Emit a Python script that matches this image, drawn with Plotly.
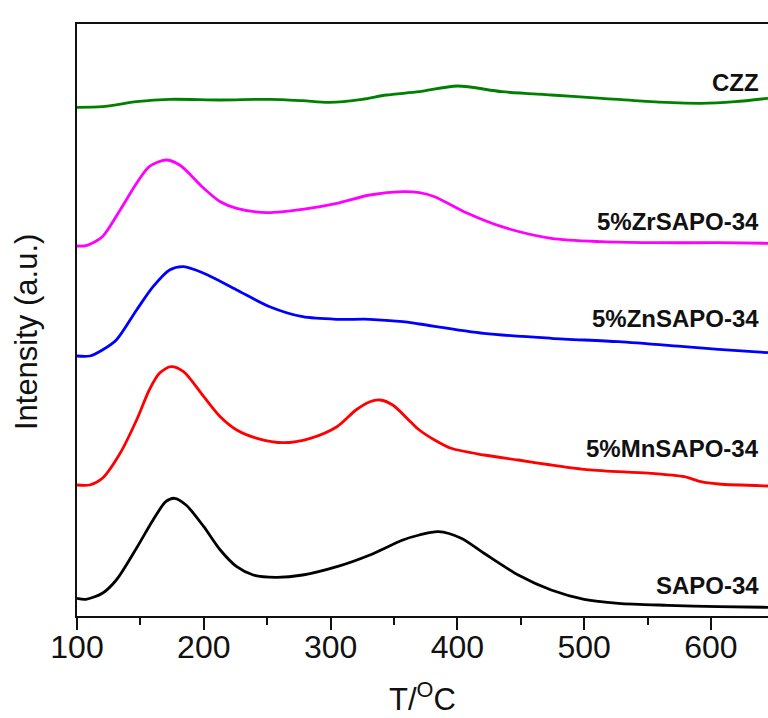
import plotly.graph_objects as go

# ---- data (temperature in °C, intensity in arbitrary units) ----
t_sapo = [100,107,120,131,147,160,170,177,186,200,213,226,239,257,278,305,331,357,370,385,403,421,448,474,500,527,566,606,645]
i_sapo = [17.7,16.7,22.7,36,68,96,114.3,117.7,111,89.3,66,49.3,41,38.7,41,49.3,61,76,81,84.3,77.7,62.7,41,26,16.7,12.7,10.7,9.3,8.7]

t_mn = [100,110,120,134,147,157,165,174,184,200,213,226,242,263,284,305,320,331,339,349,363,370,382,395,421,448,474,500,527,553,579,592,606,645]
i_mn = [131,131,137.7,162.7,196,226,242.7,249.3,244.3,219.3,199.3,186,177.7,173.3,177.7,189.3,206,214.3,216,211,194.3,186,176,167.7,161,156,151,146.7,144.3,142.7,139.3,134.3,132,130]

t_zn = [100,110,120,131,147,160,173,184,200,226,252,278,305,331,357,370,421,474,527,579,606,645]
i_zn = [260,260,266,276,306,329.3,346,349.3,342.7,326,309.3,299.3,296.7,296.7,294.3,292,282.7,277.7,274.3,269.3,266.7,263.3]

t_zr = [100,107,120,134,147,157,170,181,200,213,226,250,278,305,331,357,370,382,408,435,474,514,553,606,645]
i_zr = [370,370.3,379.3,406,432.7,449.3,456,451,427.7,414.3,407.7,403.3,406.7,412.7,421,424.3,423.3,419.3,402.7,389.3,377.7,374.3,373.3,373.3,372.7]

t_czz = [100,120,147,173,213,252,278,299,325,344,370,400,435,474,514,553,592,619,645]
i_czz = [508.7,509.3,514.3,516.7,516,516.7,515.3,513.7,516.7,521,524.3,530,524.3,521,517.7,514.3,512.7,514.3,517.7]

series_names = ["SAPO-34", "5%MnSAPO-34", "5%ZnSAPO-34", "5%ZrSAPO-34", "CZZ"]
x_ticks = [100, 200, 300, 400, 500, 600]

series = [
    (t_sapo, i_sapo, "#000000", 31),
    (t_mn, i_mn, "#FF0000", 167.7),
    (t_zn, i_zn, "#0000FF", 297.7),
    (t_zr, i_zr, "#FF00FF", 394.3),
    (t_czz, i_czz, "#008000", 533.3),
]

FONT = "Liberation Sans, Arial, sans-serif"

fig = go.Figure()
annotations = []
for name, (tx, iy, col, label_y) in zip(series_names, series):
    fig.add_trace(go.Scatter(x=tx, y=iy, mode="lines", name=name,
                             line=dict(color=col, width=2.8, shape="spline", smoothing=0.8),
                             showlegend=False, hoverinfo="skip"))
    annotations.append(dict(x=0.99, xref="paper", y=label_y, yref="y", text=f"<b>{name}</b>",
                            showarrow=False, xanchor="right", yanchor="middle",
                            font=dict(family=FONT, size=24, color="#111111")))

annotations.append(dict(x=-0.072, xref="paper", y=0.48, yref="paper", text="Intensity (a.u.)",
                        textangle=-90, showarrow=False, xanchor="center", yanchor="middle",
                        font=dict(family=FONT, size=31, color="#111111")))
annotations.append(dict(x=0.5, xref="paper", y=-0.137, yref="paper", text="T/<sup>O</sup>C",
                        showarrow=False, xanchor="center", yanchor="middle",
                        font=dict(family=FONT, size=31, color="#111111")))

fig.update_layout(
    width=768, height=718,
    margin=dict(l=77, r=0, t=24, b=102),
    paper_bgcolor="white", plot_bgcolor="white",
    annotations=annotations,
    xaxis=dict(range=[100, 645], tickvals=x_ticks, ticks="outside", ticklen=12, tickwidth=2,
               tickcolor="#111111", showline=True, linecolor="#111111", linewidth=2, mirror=True,
               showgrid=False, zeroline=False, ticklabelstandoff=-10,
               tickfont=dict(family=FONT, size=32, color="#111111"),
               minor=dict(dtick=50, ticks="outside", ticklen=7, tickwidth=2, tickcolor="#111111", showgrid=False)),
    yaxis=dict(range=[0, 592], showticklabels=False, ticks="", showline=True, linecolor="#111111",
               linewidth=2, showgrid=False, zeroline=False),
)

fig.write_html("out.html", config={"displayModeBar": False},
               post_script="document.body.style.margin='0';document.documentElement.style.overflow='hidden';document.body.style.overflow='hidden';")
